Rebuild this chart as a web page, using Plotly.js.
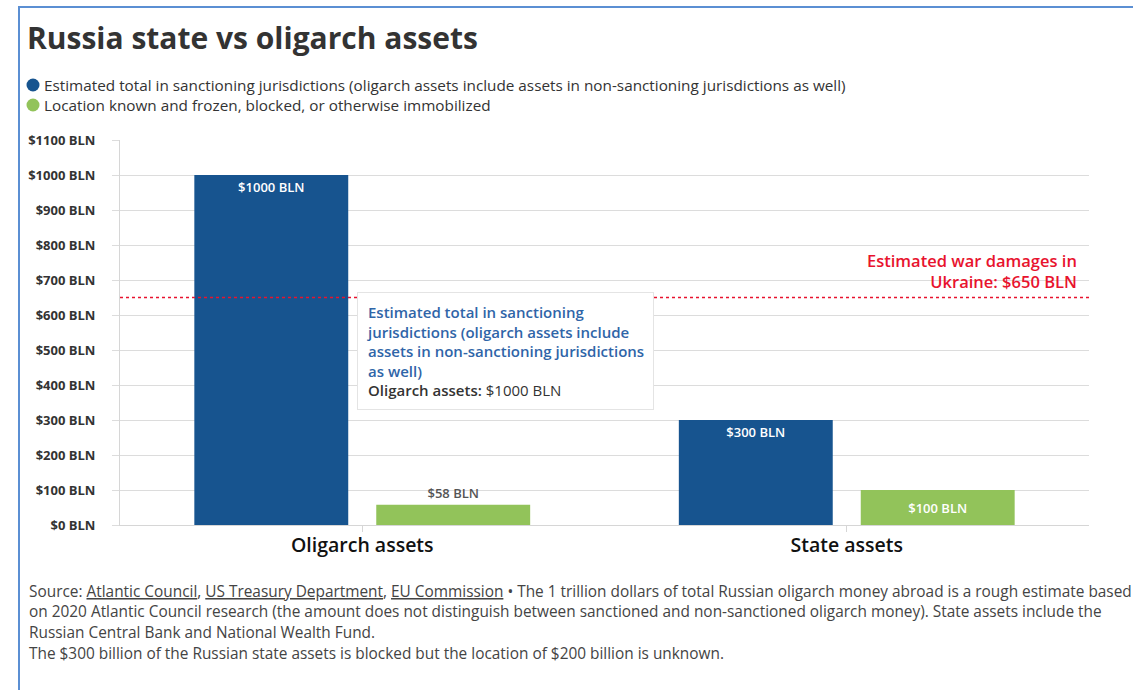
<!DOCTYPE html>
<html>
<head>
<meta charset="utf-8">
<script src="https://cdn.plot.ly/plotly-3.0.1.min.js"></script>
<style>
  html, body { margin: 0; padding: 0; background: #fff; }
  #chart { width: 1133px; height: 690px; }
  #frame { position: absolute; left: 18px; top: 6px; right: 0; bottom: 0; border-left: 2px solid #5b8fd3; border-top: 2px solid #5b8fd3; pointer-events: none; }
</style>
</head>
<body>
<div id="chart"></div>
<div id="frame"></div>
<script>
const categories = ["Oligarch assets", "State assets"];
const seriesNames = [
  "Estimated total in sanctioning jurisdictions (oligarch assets include assets in non-sanctioning jurisdictions as well)",
  "Location known and frozen, blocked, or otherwise immobilized"
];
const estimatedTotal = [1000, 300];
const frozenKnown = [58, 100];
const warDamages = 650;
const tickValues = [0, 100, 200, 300, 400, 500, 600, 700, 800, 900, 1000, 1100];
const tickLabels = tickValues.map(v => "$" + v + " BLN");
const fmt = v => "$" + v + " BLN";

const FONT = "'Open Sans', 'Noto Sans', sans-serif";
const BLUE = "#17548f";
const GREEN = "#92c35a";
const RED = "#e8132e";
const seriesColors = [BLUE, GREEN];

const PL = 120, PR = 1089, PT = 140, PB = 525;
const PW = PR - PL, PH = PB - PT;

const traces = [
  {
    type: "bar", name: seriesNames[0], x: categories, y: estimatedTotal,
    marker: { color: BLUE, line: { width: 0 } },
    text: estimatedTotal.map(fmt), textinfo: "text", textposition: ["inside", "inside"],
    insidetextanchor: "end", constraintext: "none",
    insidetextfont: { color: "#ffffff", size: 13, family: FONT, weight: 600 },
    outsidetextfont: { color: "#555", size: 13, family: FONT, weight: 600 },
    textangle: 0, cliponaxis: false, showlegend: false, hoverinfo: "skip"
  },
  {
    type: "bar", name: seriesNames[1], x: categories, y: frozenKnown,
    marker: { color: GREEN, line: { width: 0 } },
    text: frozenKnown.map(fmt), textinfo: "text", textposition: ["outside", "inside"],
    insidetextanchor: "middle", constraintext: "none",
    insidetextfont: { color: "#ffffff", size: 13, family: FONT, weight: 600 },
    outsidetextfont: { color: "#555", size: 13, family: FONT, weight: 600 },
    textangle: 0, cliponaxis: false, showlegend: false, hoverinfo: "skip"
  }
];

const footLines = [
  'Source: <span style="text-decoration:underline">Atlantic Council</span>, <span style="text-decoration:underline">US Treasury Department</span>, <span style="text-decoration:underline">EU Commission</span> • The 1 trillion dollars of total Russian oligarch money abroad is a rough estimate based',
  'on 2020 Atlantic Council research (the amount does not distinguish between sanctioned and non-sanctioned oligarch money). State assets include the',
  'Russian Central Bank and National Wealth Fund.',
  'The $300 billion of the Russian state assets is blocked but the location of $200 billion is unknown.'
];
const footY = [591, 611, 632, 653];

const annotations = footLines.map((t, i) => ({
  xref: "paper", yref: "paper", x: (27 - PL) / PW, y: (PB - footY[i]) / PH,
  xanchor: "left", yanchor: "middle", showarrow: false, align: "left",
  text: t, font: { family: FONT, size: 15.4, color: "#444" }
}));

// legend built as annotations (label) + circle symbols
const legendY = [85, 105];
const shapes = [];
seriesNames.forEach((n, i) => {
  annotations.push({
    xref: "paper", yref: "paper", x: (42 - PL) / PW, y: (PB - legendY[i]) / PH,
    xanchor: "left", yanchor: "middle", showarrow: false, align: "left",
    text: n, font: { family: FONT, size: 15.3, color: "#333" }
  });
  shapes.push({
    type: "circle", xref: "paper", yref: "paper",
    xsizemode: "pixel", ysizemode: "pixel",
    xanchor: (33 - PL) / PW, yanchor: (PB - legendY[i]) / PH,
    x0: -6.5, x1: 6.5, y0: -6.5, y1: 6.5,
    fillcolor: seriesColors[i], line: { width: 0 }
  });
});

annotations.push({
  xref: "paper", yref: "y", x: 1, y: warDamages, xshift: -10, yshift: 3,
  xanchor: "right", yanchor: "bottom", showarrow: false, align: "right",
  text: "Estimated war damages in<br>Ukraine: $" + warDamages + " BLN",
  font: { family: FONT, size: 16.5, color: RED, weight: 600 }
});

annotations.push({
  xref: "paper", yref: "y", x: (357 - PL) / PW, y: (PB - 292) / (PH / 1100),
  xanchor: "left", yanchor: "top", showarrow: false, align: "left",
  bgcolor: "#ffffff", bordercolor: "#e4e4e4", borderwidth: 1, borderpad: 9,
  text: '<span style="color:#2f65a8">Estimated total in sanctioning<br>jurisdictions (oligarch assets include<br>assets in non-sanctioning jurisdictions<br>as well)</span><br><span style="color:#333">' + categories[0] + ': </span><span style="font-weight:400;color:#333">' + fmt(estimatedTotal[0]) + '</span>',
  font: { family: FONT, size: 15, color: "#333", weight: 600 }
});

shapes.push({
  type: "line", xref: "paper", yref: "y", x0: 0, x1: 1, y0: warDamages, y1: warDamages,
  line: { color: RED, width: 1.5, dash: "dot" }
});

const layout = {
  width: 1133, height: 690,
  margin: { l: PL, r: 1133 - PR, t: PT, b: 690 - PB, autoexpand: false },
  paper_bgcolor: "#ffffff", plot_bgcolor: "#ffffff",
  font: { family: FONT, color: "#333" },
  title: {
    text: "Russia state vs oligarch assets",
    x: 27 / 1133, xref: "container", xanchor: "left",
    y: 1 - 38 / 690, yref: "container", yanchor: "middle",
    font: { family: FONT, size: 30, weight: 700, color: "#333" }
  },
  barmode: "group", bargap: 0.249, bargroupgap: 0.154,
  showlegend: false,
  xaxis: {
    type: "category", showgrid: false, showline: true, linecolor: "#d6d6d6", linewidth: 1,
    ticks: "outside", ticklen: 6, tickcolor: "#d6d6d6", ticklabelstandoff: -3,
    tickfont: { family: FONT, size: 19.5, color: "#111", weight: 600 }, fixedrange: true, automargin: false
  },
  yaxis: {
    range: [0, 1100], tickvals: tickValues, ticktext: tickLabels,
    showgrid: true, gridcolor: "#dcdcdc", gridwidth: 1,
    showline: true, linecolor: "#d6d6d6", linewidth: 1,
    ticks: "outside", ticklen: 7, tickcolor: "#dcdcdc", ticklabelstandoff: 14,
    tickfont: { family: FONT, size: 13, color: "#333", weight: 700 },
    zeroline: false, fixedrange: true, automargin: false
  },
  shapes: shapes,
  annotations: annotations
};

Plotly.newPlot("chart", traces, layout, { displayModeBar: false, staticPlot: true });
</script>
</body>
</html>
